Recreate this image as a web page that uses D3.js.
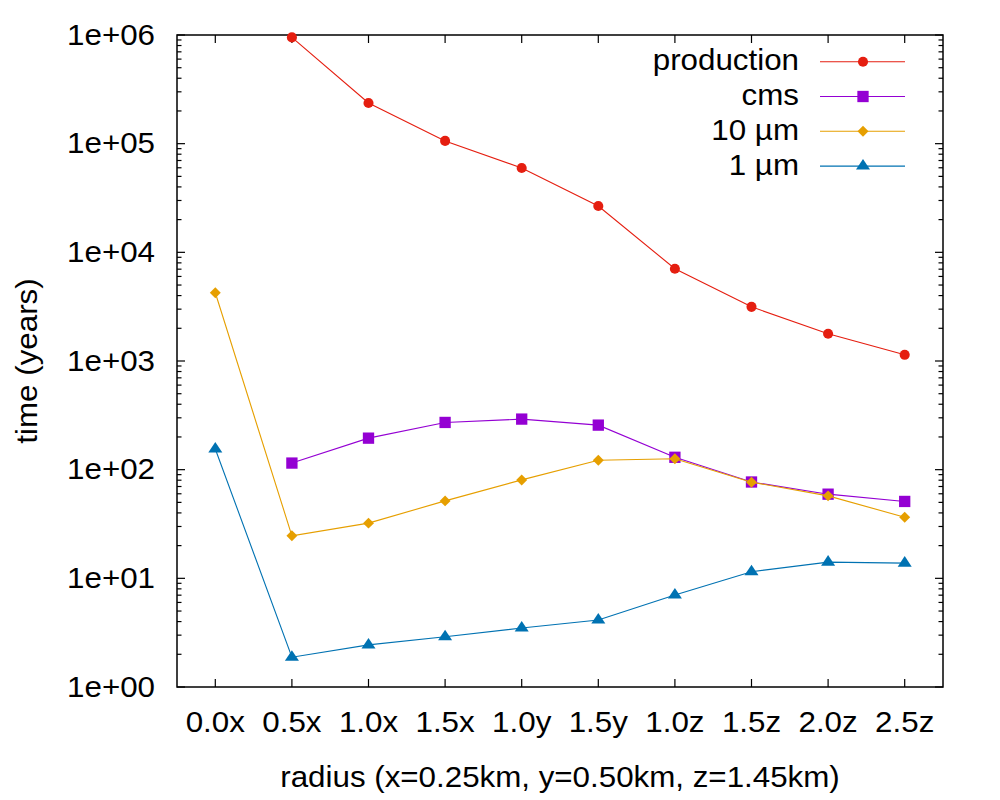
<!DOCTYPE html>
<html>
<head>
<meta charset="utf-8">
<script src="https://cdn.jsdelivr.net/npm/d3@7"></script>
<style>
  body { margin: 0; background: #fff; }
  text { font-family: "Liberation Sans", Arial, sans-serif; fill: #000; }
  .frame { fill: none; stroke: #000; stroke-width: 1.5; }
  .tick-mark { stroke: #000; stroke-width: 1.2; }
  .series { fill: none; stroke-width: 1.1; }
</style>
</head>
<body>
<div class="panel"></div>
<script>

// Data

const categories = ["0.0x", "0.5x", "1.0x", "1.5x", "1.0y", "1.5y", "1.0z", "1.5z", "2.0z", "2.5z"];

const production = [null, 950000, 237000, 106000, 59700, 26700, 7060, 3150, 1780, 1140];
const cms        = [null, 115, 195, 272, 292, 257, 130, 77, 59.5, 51];
const tenMicron  = [4250, 24.6, 32.2, 51.6, 80.5, 122, 126, 76.7, 57.4, 36.5];
const oneMicron  = [155, 1.88, 2.44, 2.9, 3.49, 4.14, 7.03, 11.5, 14.1, 13.8];

const seriesNames = ["production", "cms", "10 µm", "1 µm"];
const yTickLabels = ["1e+00", "1e+01", "1e+02", "1e+03", "1e+04", "1e+05", "1e+06"];

// Chart

const params = {
    width: 1000,
    height: 800,
    left: 177,
    right: 943,
    top: 35,
    bottom: 687,
    fontSize: 29,
    stretch: 1.08
};

// gnuplot-ish point types
const diamond = {
    draw(ctx, size) {
        const r = Math.sqrt(size / 2);
        ctx.moveTo(0, -r); ctx.lineTo(r, 0); ctx.lineTo(0, r); ctx.lineTo(-r, 0); ctx.closePath();
    }
};
const flatTriangle = {
    draw(ctx, size) {
        const w = Math.sqrt(size * 1.33) / 2, h = w * 1.5;
        ctx.moveTo(0, -h * 2 / 3); ctx.lineTo(w, h / 3); ctx.lineTo(-w, h / 3); ctx.closePath();
    }
};

const series = [
    { name: seriesNames[0], values: production, color: "#e51e10", symbol: d3.symbolCircle, size: 80 },
    { name: seriesNames[1], values: cms, color: "#9400d3", symbol: d3.symbolSquare, size: 128 },
    { name: seriesNames[2], values: tenMicron, color: "#e69f00", symbol: diamond, size: 60 },
    { name: seriesNames[3], values: oneMicron, color: "#0072b2", symbol: flatTriangle, size: 148 }
];

const svg = d3.select(".panel").append("svg")
    .attr("width", params.width)
    .attr("height", params.height)
    .attr("viewBox", [0, 0, params.width, params.height]);

function label(g, x0, y0, str, anchor, rot) {
    return g.append("text")
        .attr("transform", `translate(${x0},${y0})${rot ? " rotate(" + rot + ")" : ""} scale(${params.stretch},1)`)
        .attr("text-anchor", anchor)
        .attr("font-size", params.fontSize)
        .text(str);
}

const x = d3.scaleLinear()
    .domain([-0.5, categories.length - 0.5])
    .range([params.left, params.right]);

const y = d3.scaleLog()
    .domain([1, 1e6])
    .range([params.bottom, params.top]);

// ticks: major inward on all four sides, log minors on left/right
const ticks = svg.append("g");

categories.forEach((c, i) => {
    ticks.append("line").attr("class", "tick-mark")
        .attr("x1", x(i)).attr("x2", x(i))
        .attr("y1", params.bottom).attr("y2", params.bottom - 8);
    ticks.append("line").attr("class", "tick-mark")
        .attr("x1", x(i)).attr("x2", x(i))
        .attr("y1", params.top).attr("y2", params.top + 8);
    label(svg, x(i), 732, c, "middle");
});

yTickLabels.forEach((lab, k) => {
    const v = Math.pow(10, k);
    const yy = y(v);
    [[params.left, 1], [params.right, -1]].forEach(([x0, dir]) => {
        ticks.append("line").attr("class", "tick-mark")
            .attr("x1", x0).attr("x2", x0 + dir * 8)
            .attr("y1", yy).attr("y2", yy);
        if (k < yTickLabels.length - 1) {
            for (let m = 2; m <= 9; m++) {
                const ym = y(v * m);
                ticks.append("line").attr("class", "tick-mark")
                    .attr("x1", x0).attr("x2", x0 + dir * 4.5)
                    .attr("y1", ym).attr("y2", ym);
            }
        }
    });
    label(svg, params.left - 22, yy + 9.5, lab, "end");
});

svg.append("rect")
    .attr("class", "frame")
    .attr("x", params.left)
    .attr("y", params.top)
    .attr("width", params.right - params.left)
    .attr("height", params.bottom - params.top);

// axis titles
label(svg, (params.left + params.right) / 2, 787, "radius (x=0.25km, y=0.50km, z=1.45km)", "middle");
label(svg, 37, (params.top + params.bottom) / 2, "time (years)", "middle", -90);

// lines + points
const line = d3.line()
    .defined(d => d.v != null)
    .x(d => x(d.i))
    .y(d => y(d.v));

series.forEach(s => {
    const pts = s.values.map((v, i) => ({ i, v }));
    svg.append("path")
        .datum(pts)
        .attr("class", "series")
        .attr("stroke", s.color)
        .attr("d", line);

    svg.selectAll(null)
        .data(pts.filter(d => d.v != null))
        .enter().append("path")
        .attr("transform", d => `translate(${x(d.i)},${y(d.v)})`)
        .attr("fill", s.color)
        .attr("d", d3.symbol().type(s.symbol).size(s.size));
});

// legend
const legend = svg.append("g");

series.forEach((s, k) => {
    const ly = 61.7 + k * 34.8;
    label(legend, 799, ly + 8.5, s.name, "end");
    legend.append("line")
        .attr("x1", 820).attr("x2", 905)
        .attr("y1", ly).attr("y2", ly)
        .attr("stroke", s.color)
        .attr("stroke-width", 1.1);
    legend.append("path")
        .attr("transform", `translate(863,${ly})`)
        .attr("fill", s.color)
        .attr("d", d3.symbol().type(s.symbol).size(s.size));
});

</script>
</body>
</html>
